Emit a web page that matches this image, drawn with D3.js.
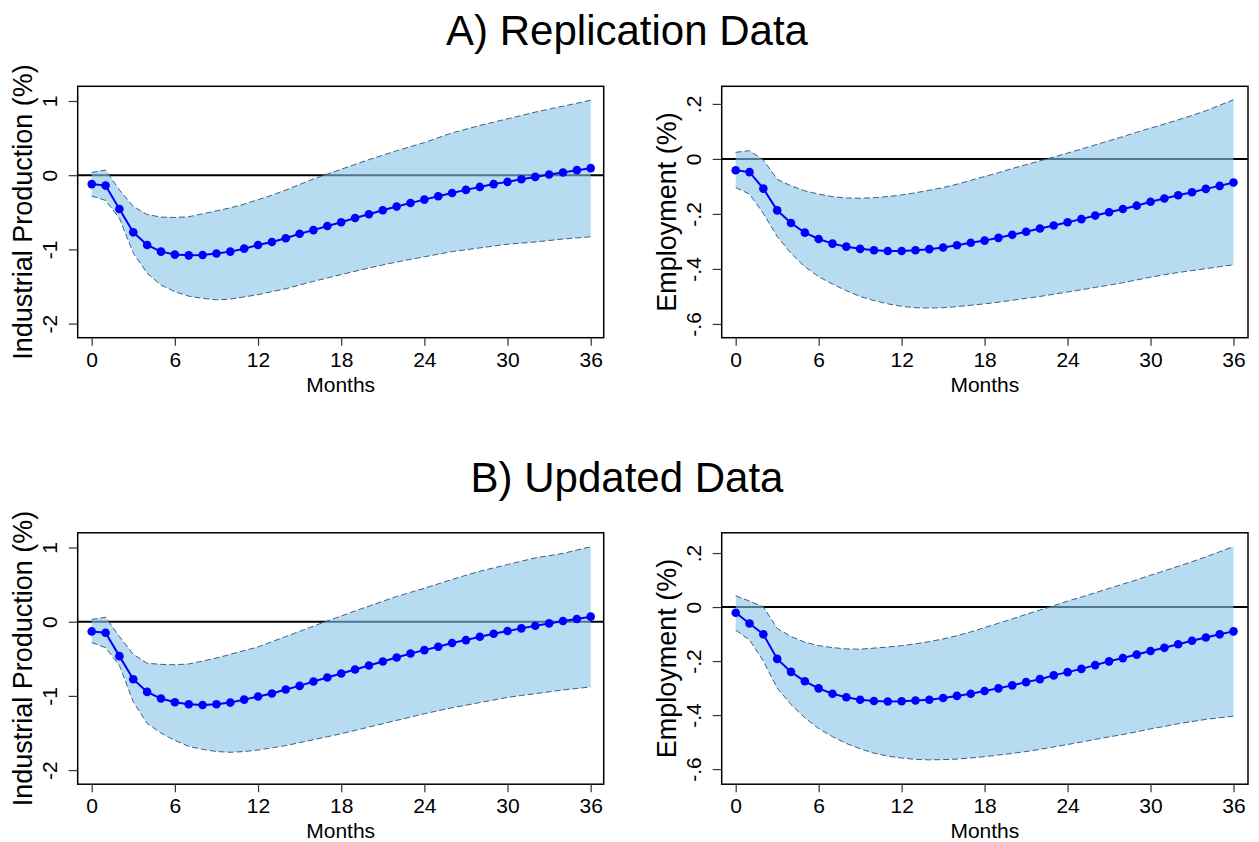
<!DOCTYPE html>
<html>
<head>
<meta charset="utf-8">
<script src="https://cdn.jsdelivr.net/npm/d3@7"></script>
<style>
  html, body { margin: 0; padding: 0; background: #fff; }
  svg { display: block; font-family: "Liberation Sans", Arial, Helvetica, sans-serif; }
</style>
</head>
<body>
<svg id="chart" width="1259" height="842"></svg>
<script>
// ---------------- DATA ----------------
const months = d3.range(0, 37);
const xTicks = [0, 6, 12, 18, 24, 30, 36];

const ipTicks = [-2, -1, 0, 1];
const ipTickLabels = ["-2", "-1", "0", "1"];
const empTicks = [-0.6, -0.4, -0.2, 0, 0.2];
const empTickLabels = ["-.6", "-.4", "-.2", "0", ".2"];

const panelTitles = ["A) Replication Data", "B) Updated Data"];
const ipTitle = "Industrial Production (%)";
const empTitle = "Employment (%)";
const xTitle = "Months";

// A) Replication – Industrial production
const ipA = [-0.12, -0.14, -0.455, -0.77, -0.94, -1.03, -1.07, -1.08, -1.075, -1.055, -1.03, -0.99, -0.94,
  -0.90, -0.85, -0.79, -0.74, -0.685, -0.635, -0.577, -0.527, -0.473, -0.423, -0.374, -0.329,
  -0.284, -0.239, -0.198, -0.158, -0.12, -0.09, -0.054, -0.023, 0.009, 0.036, 0.068, 0.095];
const ipAUpper = [0.036, 0.07, -0.20, -0.42, -0.53, -0.565, -0.57, -0.56, -0.52, -0.48, -0.44, -0.39, -0.33,
  -0.27, -0.20, -0.125, -0.05, 0.015, 0.08, 0.145, 0.21, 0.27, 0.33, 0.385, 0.44,
  0.505, 0.57, 0.62, 0.67, 0.715, 0.76, 0.805, 0.85, 0.89, 0.93, 0.97, 1.01];
const ipALower = [-0.28, -0.34, -0.58, -1.05, -1.32, -1.48, -1.57, -1.63, -1.66, -1.68, -1.67, -1.64, -1.61,
  -1.57, -1.53, -1.48, -1.43, -1.385, -1.34, -1.295, -1.25, -1.21, -1.17, -1.135, -1.10,
  -1.065, -1.03, -1.005, -0.98, -0.955, -0.93, -0.915, -0.90, -0.88, -0.86, -0.845, -0.83];

// A) Replication – Employment
const empA = [-0.041, -0.048, -0.108, -0.187, -0.233, -0.268, -0.291, -0.308, -0.319, -0.327, -0.332, -0.335, -0.335,
  -0.332, -0.328, -0.322, -0.314, -0.305, -0.297, -0.287, -0.276, -0.265, -0.253, -0.242, -0.230,
  -0.219, -0.206, -0.194, -0.182, -0.170, -0.156, -0.144, -0.132, -0.121, -0.109, -0.098, -0.086];
const empAUpper = [0.024, 0.03, -0.004, -0.074, -0.098, -0.116, -0.128, -0.137, -0.142, -0.143, -0.141, -0.137, -0.131,
  -0.123, -0.114, -0.104, -0.092, -0.078, -0.064, -0.05, -0.035, -0.021, -0.007, 0.007, 0.021,
  0.036, 0.051, 0.066, 0.081, 0.097, 0.112, 0.127, 0.142, 0.158, 0.175, 0.195, 0.215];
const empALower = [-0.104, -0.128, -0.198, -0.282, -0.343, -0.392, -0.428, -0.455, -0.479, -0.50, -0.515, -0.527, -0.536,
  -0.541, -0.542, -0.541, -0.537, -0.532, -0.527, -0.521, -0.514, -0.507, -0.50, -0.492, -0.484,
  -0.476, -0.467, -0.459, -0.45, -0.44, -0.43, -0.421, -0.413, -0.406, -0.399, -0.392, -0.385];

// B) Updated – Industrial production
const ipB = [-0.131, -0.149, -0.464, -0.775, -0.946, -1.036, -1.086, -1.113, -1.122, -1.113, -1.09, -1.05, -1.009,
  -0.968, -0.914, -0.865, -0.806, -0.752, -0.698, -0.644, -0.59, -0.536, -0.482, -0.428, -0.383,
  -0.338, -0.288, -0.248, -0.203, -0.162, -0.126, -0.09, -0.054, -0.023, 0.009, 0.036, 0.068];
const ipBUpper = [0.03, 0.06, -0.20, -0.44, -0.56, -0.575, -0.58, -0.57, -0.53, -0.49, -0.44, -0.39, -0.34,
  -0.27, -0.20, -0.13, -0.06, 0.01, 0.077, 0.145, 0.21, 0.275, 0.34, 0.395, 0.45,
  0.51, 0.57, 0.625, 0.68, 0.725, 0.77, 0.815, 0.86, 0.89, 0.92, 0.965, 1.01];
const ipBLower = [-0.28, -0.35, -0.59, -1.08, -1.37, -1.50, -1.60, -1.68, -1.72, -1.75, -1.76, -1.75, -1.73,
  -1.70, -1.67, -1.63, -1.59, -1.55, -1.51, -1.465, -1.42, -1.375, -1.33, -1.285, -1.24,
  -1.20, -1.16, -1.125, -1.09, -1.055, -1.02, -0.995, -0.97, -0.945, -0.92, -0.90, -0.88];

// B) Updated – Employment
const empB = [-0.021, -0.061, -0.101, -0.192, -0.24, -0.275, -0.301, -0.321, -0.334, -0.343, -0.348, -0.35, -0.349,
  -0.346, -0.343, -0.337, -0.329, -0.321, -0.311, -0.301, -0.29, -0.278, -0.267, -0.253, -0.241,
  -0.229, -0.215, -0.201, -0.189, -0.176, -0.163, -0.151, -0.138, -0.125, -0.113, -0.101, -0.09];
const empBUpper = [0.042, 0.022, 0.001, -0.079, -0.109, -0.13, -0.143, -0.15, -0.155, -0.156, -0.152, -0.148, -0.143,
  -0.136, -0.128, -0.118, -0.106, -0.092, -0.076, -0.06, -0.044, -0.027, -0.011, 0.005, 0.022,
  0.037, 0.053, 0.069, 0.085, 0.101, 0.118, 0.134, 0.151, 0.168, 0.186, 0.205, 0.224];
const empBLower = [-0.086, -0.122, -0.20, -0.30, -0.361, -0.41, -0.45, -0.48, -0.505, -0.525, -0.541, -0.552, -0.559,
  -0.564, -0.566, -0.565, -0.563, -0.559, -0.554, -0.548, -0.542, -0.535, -0.527, -0.518, -0.509,
  -0.50, -0.49, -0.481, -0.472, -0.462, -0.451, -0.442, -0.432, -0.424, -0.416, -0.41, -0.404];

// axis extents (value at frame bottom / top)
const ipDomain = [-2.19, 1.198];
const empADomain = [-0.65, 0.264];
const empBDomain = [-0.656, 0.275];

// ---------------- LAYOUT ----------------
const svg = d3.select("#chart");
const colLeft = [{x0: 77.7, x1: 603.7, padL: 14, padR: 13}, {x0: 721.7, x1: 1248, padL: 14, padR: 14.5}];
const rowTop = [{y0: 86.3, y1: 337.7}, {y0: 532.8, y1: 784.2}];

const panels = [
  {col: 0, row: 0, irf: ipA, lo: ipALower, hi: ipAUpper, domain: ipDomain, ticks: ipTicks, labels: ipTickLabels, title: ipTitle},
  {col: 1, row: 0, irf: empA, lo: empALower, hi: empAUpper, domain: empADomain, ticks: empTicks, labels: empTickLabels, title: empTitle},
  {col: 0, row: 1, irf: ipB, lo: ipBLower, hi: ipBUpper, domain: ipDomain, ticks: ipTicks, labels: ipTickLabels, title: ipTitle},
  {col: 1, row: 1, irf: empB, lo: empBLower, hi: empBUpper, domain: empBDomain, ticks: empTicks, labels: empTickLabels, title: empTitle}
];

// Row titles
[45, 491.5].forEach((y, i) => {
  svg.append("text").attr("x", 627).attr("y", y)
    .attr("text-anchor", "middle").attr("font-size", 42).attr("fill", "#000")
    .text(panelTitles[i]);
});

panels.forEach(p => {
  const c = colLeft[p.col], r = rowTop[p.row];
  const x = d3.scaleLinear().domain([0, 36]).range([c.x0 + c.padL, c.x1 - c.padR]);
  const y = d3.scaleLinear().domain(p.domain).range([r.y1, r.y0]);
  const g = svg.append("g");

  // zero line (under the translucent band)
  g.append("line").attr("x1", c.x0).attr("x2", c.x1)
    .attr("y1", y(0)).attr("y2", y(0))
    .attr("stroke", "#000").attr("stroke-width", 2);

  const rows = months.map((m, i) => ({m, v: p.irf[i], lo: p.lo[i], hi: p.hi[i]}));

  // confidence band
  g.append("path").datum(rows)
    .attr("d", d3.area().x(d => x(d.m)).y0(d => y(d.lo)).y1(d => y(d.hi)))
    .attr("fill", "rgb(135,195,232)").attr("fill-opacity", 0.6).attr("stroke", "none");

  ["lo", "hi"].forEach(k => {
    g.append("path").datum(rows)
      .attr("d", d3.line().x(d => x(d.m)).y(d => y(d[k])))
      .attr("fill", "none").attr("stroke", "#3d5f80").attr("stroke-width", 1)
      .attr("stroke-dasharray", "6,3");
  });

  // IRF line and markers
  g.append("path").datum(rows)
    .attr("d", d3.line().x(d => x(d.m)).y(d => y(d.v)))
    .attr("fill", "none").attr("stroke", "#0000ff").attr("stroke-width", 2);
  g.selectAll("circle.pt").data(rows).enter().append("circle")
    .attr("class", "pt")
    .attr("cx", d => x(d.m)).attr("cy", d => y(d.v)).attr("r", 4.3)
    .attr("fill", "#0000ff");

  // frame
  g.append("rect").attr("x", c.x0).attr("y", r.y0)
    .attr("width", c.x1 - c.x0).attr("height", r.y1 - r.y0)
    .attr("fill", "none").attr("stroke", "#000").attr("stroke-width", 1.5);

  // x axis
  const xa = g.append("g").attr("transform", `translate(0,${r.y1})`)
    .call(d3.axisBottom(x).tickValues(xTicks).tickSize(8).tickPadding(3).tickFormat(d3.format("d")));
  xa.select(".domain").remove();
  xa.selectAll(".tick line").attr("stroke", "#333").attr("stroke-width", 1.2);
  xa.selectAll(".tick text").attr("font-size", 21).attr("fill", "#000")
    .attr("font-family", "Liberation Sans, Arial, sans-serif")
    .attr("dy", null).attr("y", 29);

  // y axis
  const ya = g.append("g").attr("transform", `translate(${c.x0},0)`)
    .call(d3.axisLeft(y).tickValues(p.ticks).tickSize(9).tickFormat((d, i) => p.labels[i]));
  ya.select(".domain").remove();
  ya.selectAll(".tick line").attr("stroke", "#333").attr("stroke-width", 1.2);
  ya.selectAll(".tick text").attr("font-size", 21).attr("fill", "#000")
    .attr("font-family", "Liberation Sans, Arial, sans-serif")
    .attr("x", null).attr("dy", null)
    .attr("text-anchor", "middle")
    .attr("transform", "translate(-21,0) rotate(-90)");

  // axis titles
  g.append("text").attr("x", (c.x0 + c.x1) / 2).attr("y", r.y1 + 54)
    .attr("text-anchor", "middle").attr("font-size", 21).attr("fill", "#000")
    .text(xTitle);
  g.append("text")
    .attr("transform", `translate(${c.x0 - 46},${(r.y0 + r.y1) / 2}) rotate(-90)`)
    .attr("text-anchor", "middle").attr("font-size", 27).attr("fill", "#000")
    .text(p.title);
});
</script>
</body>
</html>
